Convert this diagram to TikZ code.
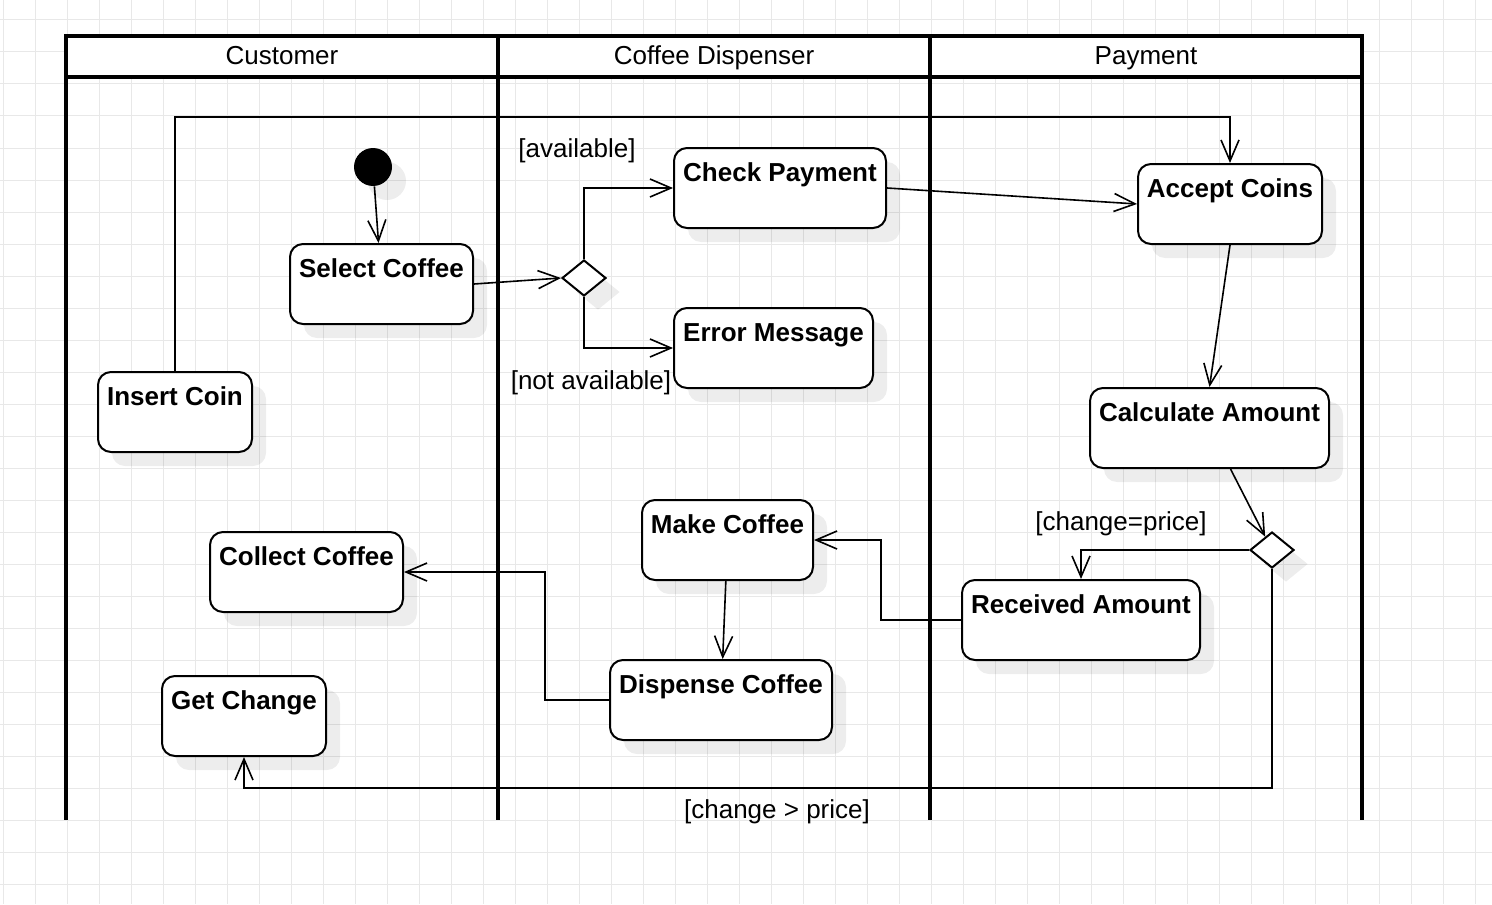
\documentclass[tikz,border=0pt]{standalone}
\usepackage{fontspec}
\setmainfont{Liberation Sans}
\usetikzlibrary{arrows.meta, shapes.geometric, shadows}

\newcommand{\diagfont}{\fontsize{13}{15.6}\selectfont}

\tikzset{
  gridline/.style={draw=black!9, line width=0.5pt},
  lanehead/.style={draw, fill=white, line width=1.6pt, minimum width=216pt,
    minimum height=20.5pt, inner sep=0pt, outer sep=0pt,
    text height=10pt, text depth=2.2pt},
  lane/.style={line width=1.6pt},
  softshadow/.style={drop shadow={shadow xshift=7pt, shadow yshift=-7pt,
    fill=black, opacity=0.07}},
  act/.style={draw, fill=white, line width=1pt, rounded corners=6.5pt,
    font=\diagfont\bfseries, inner xsep=2pt, inner ysep=4pt,
    text height=12.5pt, text depth=19.5pt, softshadow},
  decision/.style={diamond, draw, fill=white, line width=1pt, minimum width=22pt,
    minimum height=18pt, inner sep=0pt, softshadow},
  start/.style={circle, fill=black, minimum size=19pt, inner sep=0pt, softshadow},
  guard/.style={inner sep=1pt},
  flow/.style={->, line width=0.8pt}
}

\begin{document}
\begin{tikzpicture}[>={Straight Barb[length=10.5pt,width=9pt]}, x=0.5pt, y=-0.5pt, font=\diagfont]
  \useasboundingbox (0,0) rectangle (1492,904);

% background grid
  \foreach \gx in {3,35,...,1491} \draw[gridline] (\gx,0) -- (\gx,904);
  \foreach \gy in {20,52,...,900} \draw[gridline] (0,\gy) -- (1492,\gy);

% swimlanes
  \node[lanehead] (cust) at (282,56.5)  {Customer};
  \node[lanehead] (disp) at (714,56.5)  {Coffee Dispenser};
  \node[lanehead] (pay)  at (1146,56.5) {Payment};
  \coordinate (bottom) at (0,820);
  \coordinate (top) at (0,117);
  \coordinate (low) at (0,788);
  \foreach \c in {cust.south west, disp.south west, pay.south west, pay.south east}
    \draw[lane] (\c) -- (\c |- bottom);

% define the activities
  \node[start] (init) at (373,167) {};
  \node[act, minimum width=91.5pt]  (sc) at (381.5,284)  {Select Coffee};
  \node[act, minimum width=77pt]    (ic) at (175,412)    {Insert Coin};
  \node[act, minimum width=96.5pt]  (cc) at (306.5,572)  {Collect Coffee};
  \node[act, minimum width=82pt]    (gc) at (244,716)    {Get Change};
  \node[decision] (d1) at (584,278) {};
  \node[act, minimum width=106pt]   (cp) at (780,188)    {Check Payment};
  \node[act, minimum width=99.5pt]  (em) at (773.5,348)  {Error Message};
  \node[act, minimum width=85.5pt]  (mc) at (727.5,540)  {Make Coffee};
  \node[act, minimum width=111pt]   (dc) at (721,700)    {Dispense Coffee};
  \node[act, minimum width=92pt]    (ac) at (1230,204)   {Accept Coins};
  \node[act, minimum width=119.5pt] (ca) at (1209.5,428) {Calculate Amount};
  \node[act, minimum width=119pt]   (ra) at (1081,620)   {Received Amount};
  \node[decision] (d2) at (1272,550) {};

% guards
  \node[guard] (lavail) at (577,151)  {[available]};
  \node[guard] (lnot)   at (591,383)  {[not available]};
  \node[guard] (leq)    at (1121,524) {[change=price]};
  \node[guard] (lgt)    at (777,812)  {[change > price]};

% define the links
  \path[flow] (init) edge (sc)
              (sc.east) edge (d1.west)
              (cp.east) edge (ac.west)
              (ac.south) edge (ca.north)
              (ca) edge (d2)
              (mc) edge (dc);
  \draw[flow] (d1.north) |- (cp.west);
  \draw[flow] (d1.south) |- (em.west);
  \draw[flow] (ic.north) -- (ic.north |- top) -| (ac.north);
  \draw[flow] (d2.west) -| (ra.north);
  \draw[flow] (d2.south) -- (d2.south |- low) -| (gc.south);
  \draw[flow] (ra.west) -- ++(-80,0) |- (mc.east);
  \draw[flow] (dc.west) -- ++(-64,0) |- (cc.east);

\end{tikzpicture}
\end{document}
